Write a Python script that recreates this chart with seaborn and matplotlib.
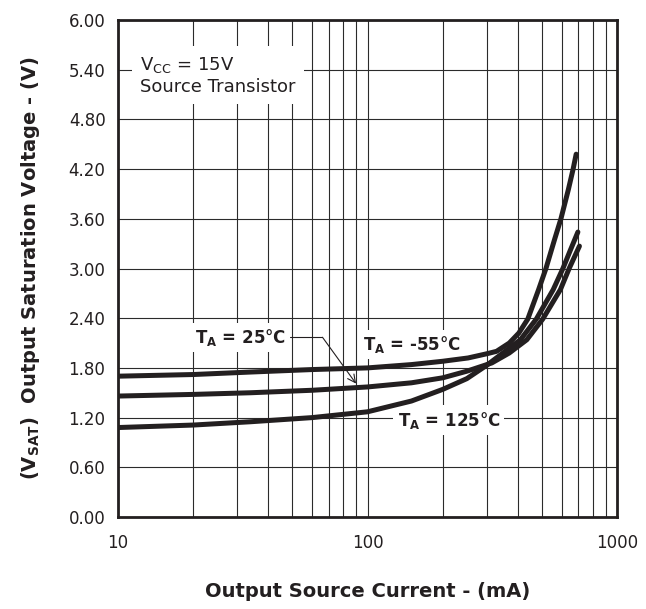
import numpy as np
import pandas as pd
import seaborn as sns
import matplotlib.pyplot as plt
from matplotlib.ticker import FixedLocator, LogLocator, NullFormatter

# valeurs (courant en mA, tension en V)
i_m55 = [10, 20, 34, 60, 100, 150, 200, 253, 300, 329, 370, 404, 439, 485, 519, 562, 596, 638, 667, 686]
v_m55 = [1.70, 1.72, 1.75, 1.78, 1.80, 1.84, 1.88, 1.92, 1.97, 2.00, 2.10, 2.22, 2.39, 2.745, 3.00, 3.35, 3.60, 3.95, 4.20, 4.38]

i_25 = [10, 20, 34, 60, 100, 150, 200, 250, 315, 370, 435, 504, 593, 643, 707]
v_25 = [1.46, 1.48, 1.50, 1.53, 1.57, 1.62, 1.68, 1.76, 1.86, 1.98, 2.14, 2.39, 2.745, 3.00, 3.27]

i_125 = [10, 20, 34, 60, 100, 150, 200, 250, 300, 349, 410, 475, 555, 607, 650, 697]
v_125 = [1.08, 1.11, 1.15, 1.20, 1.27, 1.40, 1.54, 1.67, 1.83, 1.98, 2.14, 2.39, 2.745, 3.00, 3.22, 3.44]

temps = ['-55', '25', '125']
y_ticks = [0.0, 0.6, 1.2, 1.8, 2.4, 3.0, 3.6, 4.2, 4.8, 5.4, 6.0]
x_ticks = [10, 100, 1000]

ink = '#231f20'

df = pd.concat([
    pd.DataFrame({'I': i_m55, 'V': v_m55, 'T': temps[0]}),
    pd.DataFrame({'I': i_25, 'V': v_25, 'T': temps[1]}),
    pd.DataFrame({'I': i_125, 'V': v_125, 'T': temps[2]}),
])

sns.set_style('white')
plt.rcParams['font.family'] = ['DejaVu Sans']
plt.rcParams['mathtext.fontset'] = 'dejavusans'

fig = plt.figure(figsize=(6.46, 6.09), dpi=100)
ax = fig.add_axes([118/646, 1 - 517/609, 499/646, 497/609])

sns.lineplot(data=df, x='I', y='V', hue='T', palette=[ink, ink, ink],
             estimator=None, sort=False, linewidth=3.6, legend=False, ax=ax, zorder=6)
for ln in ax.lines:
    ln.set_solid_joinstyle('round')

ax.set_xscale('log')
ax.set_xlim(10, 1000)
ax.set_ylim(0, 6)
ax.xaxis.set_major_locator(FixedLocator(x_ticks))
ax.set_xticklabels([str(t) for t in x_ticks])
ax.xaxis.set_minor_locator(LogLocator(base=10, subs=np.arange(2, 10)))
ax.xaxis.set_minor_formatter(NullFormatter())
ax.set_yticks(y_ticks)
ax.set_yticklabels([f'{t:.2f}' for t in y_ticks])
ax.tick_params(axis='both', which='both', length=0, labelsize=12, colors=ink)
ax.tick_params(axis='x', pad=12)
ax.tick_params(axis='y', pad=9)

ax.grid(True, which='both', axis='x', color='#2b2b2b', linewidth=0.8)
ax.grid(True, which='major', axis='y', color='#2b2b2b', linewidth=0.8)
for s in ax.spines.values():
    s.set_color(ink)
    s.set_linewidth(2.0)
    s.set_visible(True)

ax.set_xlabel('Output Source Current - (mA)', fontsize=14, fontweight='bold',
              color=ink, labelpad=22)
ax.set_ylabel(r'($\mathbf{V_{SAT}}$)  Output Saturation Voltage - (V)', fontsize=14,
              fontweight='bold', color=ink, labelpad=19)

box = dict(facecolor='white', edgecolor='none', pad=3)
ax.text(12.3, 5.33, 'V$_\\mathregular{CC}$ = 15V\nSource Transistor', fontsize=13,
        color=ink, va='center', ha='left', linespacing=1.15,
        bbox=dict(facecolor='white', edgecolor='none', pad=6), zorder=5)
ax.text(47, 2.17, r'$\mathbf{T_{A}}$ = 25°C', fontsize=12, fontweight='bold',
        color=ink, ha='right', va='center', bbox=box, zorder=5)
ax.text(151, 2.08, r'$\mathbf{T_{A}}$ = -55°C', fontsize=12, fontweight='bold',
        color=ink, ha='center', va='center', bbox=box, zorder=5)
ax.text(212, 1.17, r'$\mathbf{T_{A}}$ = 125°C', fontsize=12, fontweight='bold',
        color=ink, ha='center', va='center', bbox=box, zorder=5)

# trait de rappel vers la courbe 25°C
ax.plot([49, 66], [2.17, 2.17], color=ink, linewidth=0.8, zorder=4)
ax.annotate('', xy=(90, 1.61), xytext=(66, 2.17),
            arrowprops=dict(arrowstyle='->', color=ink, lw=0.8,
                            mutation_scale=14, shrinkA=0, shrinkB=0), zorder=7)

fig.savefig('out.png', dpi=100)
